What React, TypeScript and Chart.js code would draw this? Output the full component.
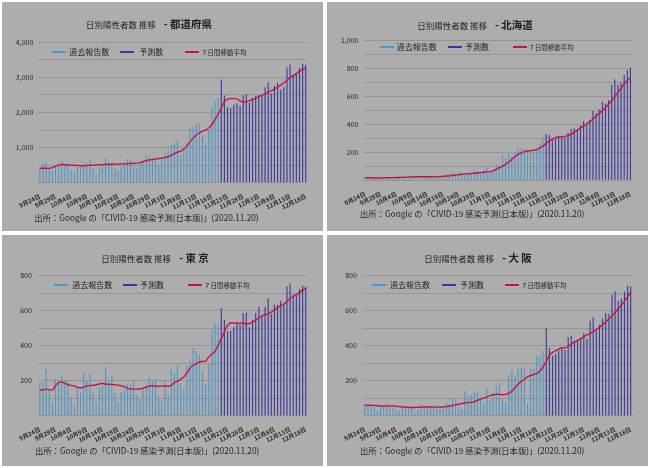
import React, { useEffect, useRef } from "react";
import { Chart, registerables } from "chart.js";
Chart.register(...registerables);

const FONT = "'Noto Sans CJK JP', 'Noto Sans', sans-serif";

const dates = [
  "9月24日","9月25日","9月26日","9月27日","9月28日","9月29日","9月30日",
  "10月1日","10月2日","10月3日","10月4日","10月5日","10月6日","10月7日","10月8日","10月9日","10月10日",
  "10月11日","10月12日","10月13日","10月14日","10月15日","10月16日","10月17日","10月18日","10月19日","10月20日",
  "10月21日","10月22日","10月23日","10月24日","10月25日","10月26日","10月27日","10月28日","10月29日","10月30日","10月31日",
  "11月1日","11月2日","11月3日","11月4日","11月5日","11月6日","11月7日","11月8日","11月9日","11月10日",
  "11月11日","11月12日","11月13日","11月14日","11月15日","11月16日","11月17日","11月18日","11月19日","11月20日",
  "11月21日","11月22日","11月23日","11月24日","11月25日","11月26日","11月27日","11月28日","11月29日","11月30日",
  "12月1日","12月2日","12月3日","12月4日","12月5日","12月6日","12月7日","12月8日","12月9日","12月10日",
  "12月11日","12月12日","12月13日","12月14日","12月15日","12月16日","12月17日","12月18日",
];

const legendLabels = ["過去報告数", "予測数", "７日間移動平均"];
const sourceText = "出所：Google の「CIVID-19 感染予測(日本版)」(2020.11.20)";

// 都道府県 (all prefectures)
const prefPast = [
  410, 550, 590, 380, 340, 455, 550, 620, 505, 550,
  360, 305, 455, 505, 580, 550, 640, 410, 265, 455,
  485, 695, 600, 550, 410, 330, 455, 550, 675, 665,
  505, 410, 550, 665, 790, 740, 720, 630, 505, 740,
  835, 933, 1075, 1124, 1218, 790, 980, 1124, 1550, 1600,
  1670, 1660, 1360, 1140, 1500, 2165, 2310, 2420,
];
const prefForecast = [
  2930, 2485, 2150, 2130, 2220, 2265, 2190, 2500, 2530, 2285,
  2410, 2475, 2500, 2475, 2720, 2855, 2550, 2760, 2855, 2645,
  2720, 3285, 3360, 3075, 3120, 3265, 3390, 3360,
];
const prefMA = [
  410, 410, 410, 410, 430, 470, 500, 520, 515, 505,
  500, 495, 490, 485, 485, 490, 495, 500, 505, 510,
  515, 520, 525, 525, 528, 530, 535, 540, 545, 548,
  552, 558, 570, 600, 630, 648, 660, 672, 688, 700,
  715, 740, 775, 830, 870, 900, 960, 1050, 1170, 1270,
  1360, 1420, 1470, 1500, 1560, 1650, 1800, 1950, 2120, 2300,
  2380, 2395, 2395, 2390, 2330, 2300, 2310, 2340, 2370, 2410,
  2450, 2490, 2530, 2580, 2620, 2670, 2720, 2780, 2840, 2920,
  2990, 3050, 3110, 3170, 3220, 3270,
];

// 北海道
const hokPast = [
  20, 18, 22, 15, 10, 18, 20, 15, 18, 20,
  25, 12, 22, 35, 30, 28, 22, 10, 25, 28,
  30, 25, 28, 30, 20, 35, 45, 50, 55, 45,
  60, 40, 35, 50, 60, 70, 65, 50, 80,
  91, 62, 74, 117, 105, 181, 158, 200, 169, 198,
  234, 234, 222, 198, 193, 200, 224, 265, 305,
];
const hokForecast = [
  332, 325, 296, 296, 313, 313, 305, 340, 368, 372,
  368, 391, 425, 396, 432, 496, 480, 508, 563, 551,
  575, 683, 723, 683, 700, 754, 790, 807,
];
const hokMA = [
  18, 18, 18, 17, 17, 17, 18, 18, 19, 19,
  20, 20, 21, 22, 23, 24, 25, 25, 25, 25,
  25, 25, 26, 26, 27, 28, 30, 32, 35, 38,
  40, 43, 45, 47, 48, 50, 52, 55, 58, 60,
  62, 68, 78, 90, 100, 115, 130, 150, 170, 185,
  195, 205, 210, 212, 215, 222, 232, 245, 265, 280,
  295, 305, 310, 312, 315, 320, 330, 345, 360, 375,
  390, 405, 420, 440, 460, 480, 500, 520, 545, 570,
  600, 630, 660, 690, 715, 735,
];

// 東京
const tokPast = [
  189, 192, 268, 150, 76, 210, 190, 230, 202, 202,
  105, 59, 164, 135, 244, 202, 244, 141, 76, 164,
  171, 278, 200, 230, 130, 74, 135, 145, 181, 181,
  200, 116, 97, 160, 173, 215, 200, 210, 110, 82,
  202, 116, 267, 240, 291, 187, 152, 290, 314, 389,
  370, 349, 251, 175, 297, 491, 531, 520,
];
const tokForecast = [
  615, 547, 482, 486, 505, 533, 520, 585, 590, 505,
  547, 587, 623, 575, 623, 670, 581, 634, 634, 657,
  642, 739, 756, 691, 691, 724, 741, 737,
];
const tokMA = [
  147, 147, 152, 149, 147, 173, 189, 192, 185, 177,
  173, 170, 162, 160, 162, 170, 173, 173, 177, 181,
  185, 181, 179, 179, 177, 175, 171, 166, 156, 154,
  152, 152, 154, 158, 164, 170, 170, 168, 168, 168,
  171, 168, 173, 189, 198, 208, 221, 244, 272, 288,
  297, 307, 310, 312, 335, 352, 368, 402, 440, 478,
  516, 530, 530, 528, 528, 528, 525, 527, 535, 545,
  558, 570, 577, 583, 592, 605, 618, 628, 637, 652,
  670, 682, 692, 703, 716, 730,
];

// 大阪
const osaPast = [
  65, 57, 65, 48, 30, 48, 52, 75, 57, 52,
  33, 28, 57, 48, 53, 44, 25, 30, 67, 57,
  48, 57, 51, 48, 38, 48, 76, 67, 101, 91,
  67, 38, 143, 110, 120, 133, 137, 110, 70, 152,
  86, 128, 171, 190, 95, 80, 229, 257, 229, 267,
  276, 267, 70, 270, 270, 338, 338, 371,
];
const osaForecast = [
  499, 387, 343, 352, 371, 381, 375, 448, 457, 429,
  432, 442, 470, 438, 543, 562, 486, 520, 556, 585,
  581, 690, 710, 657, 670, 709, 743, 739,
];
const osaMA = [
  60, 60, 59, 58, 57, 56, 55, 56, 57, 56,
  54, 52, 50, 49, 48, 47, 47, 48, 49, 50,
  50, 50, 49, 49, 50, 50, 52, 55, 58, 62,
  66, 70, 74, 75, 76, 80, 88, 95, 100, 108,
  115, 120, 122, 122, 120, 122, 128, 140, 160, 180,
  195, 210, 222, 230, 236, 242, 255, 280, 310, 345,
  362, 372, 380, 388, 388, 395, 410, 420, 430, 440,
  452, 462, 470, 480, 492, 505, 520, 535, 552, 570,
  590, 610, 632, 655, 680, 705,
];

const BG = "#adadad";
const GRID = "#959595";
const PAST_C = "#4d96cc";
const FC_C = "#3b37a0";
const MA_C = "#c8123f";
const TXT = "#262626";

type Cfg = {
  left: number; top: number; w: number; h: number;
  title: string; titleBold: string; titleCx: number; titleY: number;
  past: number[]; forecast: number[]; ma: number[];
  yMax: number; yStep: number; yLabelStep: number; yPad: number;
  area: { l: number; r: number; t: number; b: number };
  legendY: number; items: { lx: number; tx: number }[];
  srcX: number; srcY: number;
};

const panels: Cfg[] = [
  {
    left: 2, top: 2, w: 321, h: 229,
    title: "日別陽性者数 推移", titleBold: "- 都道府県", titleCx: 147, titleY: 18.7,
    past: prefPast, forecast: prefForecast, ma: prefMA,
    yMax: 4000, yStep: 500, yLabelStep: 1000, yPad: 5,
    area: { l: 36.3, r: 305.3, t: 40.3, b: 180.7 },
    legendY: 49.7, items: [{ lx: 49.7, tx: 67.3 }, { lx: 118, tx: 137.3 }, { lx: 183, tx: 199 }],
    srcX: 32.3, srcY: 215.3,
  },
  {
    left: 327, top: 2, w: 321, h: 229,
    title: "日別陽性者数 推移", titleBold: "- 北海道", titleCx: 148, titleY: 19.7,
    past: hokPast, forecast: hokForecast, ma: hokMA,
    yMax: 1000, yStep: 100, yLabelStep: 200, yPad: 5,
    area: { l: 36.5, r: 305, t: 38.7, b: 178.3 },
    legendY: 44.7, items: [{ lx: 53, tx: 69.7 }, { lx: 121.3, tx: 138 }, { lx: 186.3, tx: 201.3 }],
    srcX: 33, srcY: 211.3,
  },
  {
    left: 2, top: 235, w: 321, h: 231,
    title: "日別陽性者数 推移", titleBold: "- 東 京", titleCx: 153, titleY: 19.7,
    past: tokPast, forecast: tokForecast, ma: tokMA,
    yMax: 800, yStep: 100, yLabelStep: 200, yPad: 6.5,
    area: { l: 36.3, r: 305.3, t: 40.7, b: 180.7 },
    legendY: 49.7, items: [{ lx: 52.3, tx: 70.3 }, { lx: 121.3, tx: 138 }, { lx: 186.3, tx: 202 }],
    srcX: 33, srcY: 215,
  },
  {
    left: 327, top: 235, w: 321, h: 231,
    title: "日別陽性者数 推移", titleBold: "- 大 阪", titleCx: 151, titleY: 19.7,
    past: osaPast, forecast: osaForecast, ma: osaMA,
    yMax: 800, yStep: 100, yLabelStep: 200, yPad: 6.5,
    area: { l: 36.3, r: 305.3, t: 40.7, b: 180.7 },
    legendY: 49.7, items: [{ lx: 45.3, tx: 63 }, { lx: 114.7, tx: 133 }, { lx: 178, tx: 194 }],
    srcX: 33, srcY: 215,
  },
];

function Panel({ cfg }: { cfg: Cfg }) {
  const ref = useRef<HTMLCanvasElement>(null);
  useEffect(() => {
    const pastData = [...cfg.past, ...cfg.forecast.map(() => null)];
    const fcData = [...cfg.past.map(() => null), ...cfg.forecast];
    const chart = new Chart(ref.current as HTMLCanvasElement, {
      data: {
        labels: dates,
        datasets: [
          {
            type: "line", label: legendLabels[2], data: cfg.ma, borderColor: MA_C,
            borderWidth: 1.4, pointRadius: 0, tension: 0.3, order: 0,
          } as any,
          {
            type: "bar", label: legendLabels[0], data: pastData, backgroundColor: PAST_C,
            barThickness: 1.1, inflateAmount: 0, grouped: false, order: 1,
          } as any,
          {
            type: "bar", label: legendLabels[1], data: fcData, backgroundColor: FC_C,
            barThickness: 1.1, inflateAmount: 0, grouped: false, order: 1,
          } as any,
        ],
      },
      options: {
        responsive: false,
        animation: false,
        layout: { padding: { left: 0, right: cfg.w - cfg.area.r, top: cfg.area.t, bottom: 0 } },
        plugins: { legend: { display: false }, tooltip: { enabled: false }, title: { display: false } },
        scales: {
          x: {
            grid: { display: false },
            border: { display: true, color: GRID },
            ticks: {
              autoSkip: false, minRotation: 26, maxRotation: 26, padding: 2,
              font: { size: 6, family: FONT, weight: "bold" }, color: TXT,
              callback: (_v: any, i: number) => (i % 5 === 0 ? dates[i] : ""),
            },
            afterFit: (s: any) => { s.height = cfg.h - cfg.area.b; },
          },
          y: {
            min: 0, max: cfg.yMax,
            grid: { color: GRID, drawTicks: false },
            border: { display: false },
            ticks: {
              stepSize: cfg.yStep, padding: cfg.yPad,
              font: { size: 7, family: FONT }, color: TXT,
              callback: (v: any) => (v !== 0 && v % cfg.yLabelStep === 0 ? Number(v).toLocaleString("en-US") : ""),
            },
            afterFit: (s: any) => { s.width = cfg.area.l; },
          },
        },
      } as any,
    });
    return () => chart.destroy();
  }, []);

  const lineColors = [PAST_C, FC_C, MA_C];
  const textSizes = [8, 8, 6.5];
  return (
    <div style={{ position: "absolute", left: cfg.left, top: cfg.top, width: cfg.w, height: cfg.h, background: BG, overflow: "hidden" }}>
      <canvas ref={ref} width={cfg.w} height={cfg.h} style={{ position: "absolute", left: 0, top: 0, width: cfg.w, height: cfg.h }} />
      <div style={{
        position: "absolute", left: cfg.titleCx, top: cfg.titleY, transform: "translate(-50%, -50%)",
        whiteSpace: "nowrap", fontFamily: FONT, color: "#1e1e1e", lineHeight: 1,
      }}>
        <span style={{ fontSize: 8.5 }}>{cfg.title}</span>
        <span style={{ fontSize: 10.5, fontWeight: 700, marginLeft: 8 }}>{cfg.titleBold}</span>
      </div>
      {cfg.items.map((it, k) => (
        <React.Fragment key={k}>
          <div style={{ position: "absolute", left: it.lx, top: cfg.legendY - 1, width: 14, height: 2, background: lineColors[k] }} />
          <div style={{
            position: "absolute", left: it.tx, top: cfg.legendY, transform: "translateY(-50%)",
            fontFamily: FONT, fontSize: textSizes[k], color: TXT, whiteSpace: "nowrap", lineHeight: 1,
          }}>{legendLabels[k]}</div>
        </React.Fragment>
      ))}
      <div style={{
        position: "absolute", left: cfg.srcX, top: cfg.srcY, transform: "translateY(-50%)",
        fontFamily: FONT, fontSize: 8.3, color: TXT, whiteSpace: "nowrap", lineHeight: 1,
      }}>{sourceText}</div>
    </div>
  );
}

export default function App() {
  return (
    <div style={{ position: "fixed", left: 0, top: 0, width: 650, height: 468, background: "#ffffff", overflow: "hidden" }}>
      {panels.map((p, i) => <Panel key={i} cfg={p} />)}
    </div>
  );
}
